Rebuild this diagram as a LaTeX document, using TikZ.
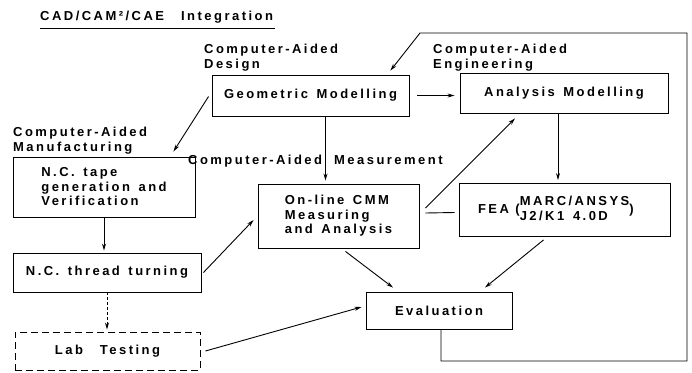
\documentclass[tikz,border=0pt]{standalone}
\usepackage{fontspec}
\setmainfont{Liberation Sans}[LetterSpace=19, WordSpace=1.4]
\usetikzlibrary{arrows.meta}
\tikzset{
  txt/.style={font=\bfseries\fontsize{13}{14.5}\selectfont, inner sep=0pt},
  box/.style={txt, draw, line width=0.9pt},
  dbox/.style={box, dash pattern=on 7pt off 4pt},
  lbl/.style={txt, align=left, anchor=north west},
  con/.style={line width=0.9pt},
  arr/.style={con, -{Stealth[length=7pt,width=4pt]}},
}
\begin{document}
\begin{tikzpicture}[x=1pt,y=-1pt]
\useasboundingbox (0,0) rectangle (692,372);

% title
\node[lbl] (title) at (40,11) {CAD/CAM²/CAE\ \ Integration};
\draw[line width=0.8pt] ([yshift=-5pt]title.south west) -- ([yshift=-5pt,xshift=2pt]title.south east);

% labels
\node[lbl] (ldes) at (204,44) {Computer-Aided\\Design};
\node[lbl] (leng) at (433,44) {Computer-Aided\\Engineering};
\node[lbl] (lman) at (13,127) {Computer-Aided\\Manufacturing};
\node[lbl] (lmea) at (188,155) {Computer-Aided\hspace{12pt}Measurement};

% boxes
\node[box, minimum width=197pt, minimum height=41pt] (geo) at (310.5,95.5) {Geometric Modelling};
\node[box, minimum width=208pt, minimum height=40pt] (ana) at (564,93) {Analysis Modelling};
\node[box, minimum width=182pt, minimum height=60pt, align=left] (nct) at (104,187) {N.C. tape\\generation and\\Verification};
\node[box, minimum width=161pt, minimum height=64pt, align=left] (cmm) at (338.5,216) {On-line CMM\\Measuring\\and Analysis};
\node[box, minimum width=211pt, minimum height=53pt, text width=173pt, inner xsep=19pt, align=left] (fea) at (564.5,210)
  {FEA\ \,(\renewcommand{\arraystretch}{1.0}\begin{tabular}{@{}l@{}}MARC/ANSYS\\J2/K1\ \ 4.0D\end{tabular})};
\node[box, minimum width=188pt, minimum height=39pt] (thr) at (107,272.5) {N.C. thread turning};
\node[dbox, minimum width=185pt, minimum height=38pt] (lab) at (107.5,351) {Lab\ \ Testing};
\node[box, minimum width=146pt, minimum height=37pt] (eva) at (439,310.5) {Evaluation};

% helper coordinates
\coordinate (fbBR) at (687,361);
\coordinate (fbTR) at (687,33);
\coordinate (fbTL) at (420,33);
\coordinate (g1) at ([xshift=15pt]geo.south);
\coordinate (a1) at ([xshift=-6pt]ana.south);

% connectors
\draw[arr, shorten <=8pt, shorten >=5pt] (geo.east) -- (geo.east -| ana.west);
\draw[arr] ([xshift=2pt]eva.south) |- (fbBR) -- (fbTR) -- (fbTL) -- ([xshift=-19pt,yshift=4pt]geo.north east);
\draw[arr] ([xshift=-3pt,yshift=-1pt]geo.west) -- ([xshift=-22pt,yshift=5pt]nct.north east);
\draw[arr, shorten >=3pt] (g1) -- (g1 |- cmm.north);
\draw[arr, shorten >=3pt] (a1) -- (a1 |- fea.north);
\draw[arr] ([xshift=6pt,yshift=8pt]cmm.east) -- ([xshift=-49pt,yshift=-5pt]ana.south);
\draw[con] ([xshift=6pt,yshift=3pt]cmm.east) -- ([xshift=-4pt,yshift=-2.5pt]fea.west);
\draw[arr, shorten >=2pt] (nct.south) -- (nct.south |- thr.north);
\draw[arr, densely dashed, shorten >=2pt] (thr.south) -- (thr.south |- lab.north);
\draw[arr] ([xshift=2pt]thr.east) -- ([xshift=-4pt,yshift=-4pt]cmm.west);
\draw[arr] ([xshift=7pt,yshift=-3pt]cmm.south) -- ([xshift=-46pt,yshift=4pt]eva.north);
\draw[arr] ([xshift=-21pt,yshift=-3pt]fea.south) -- ([xshift=46pt,yshift=4pt]eva.north);
\draw[arr] ([xshift=5pt]lab.east) -- ([xshift=-4pt,yshift=3.5pt]eva.west);
\end{tikzpicture}
\end{document}
